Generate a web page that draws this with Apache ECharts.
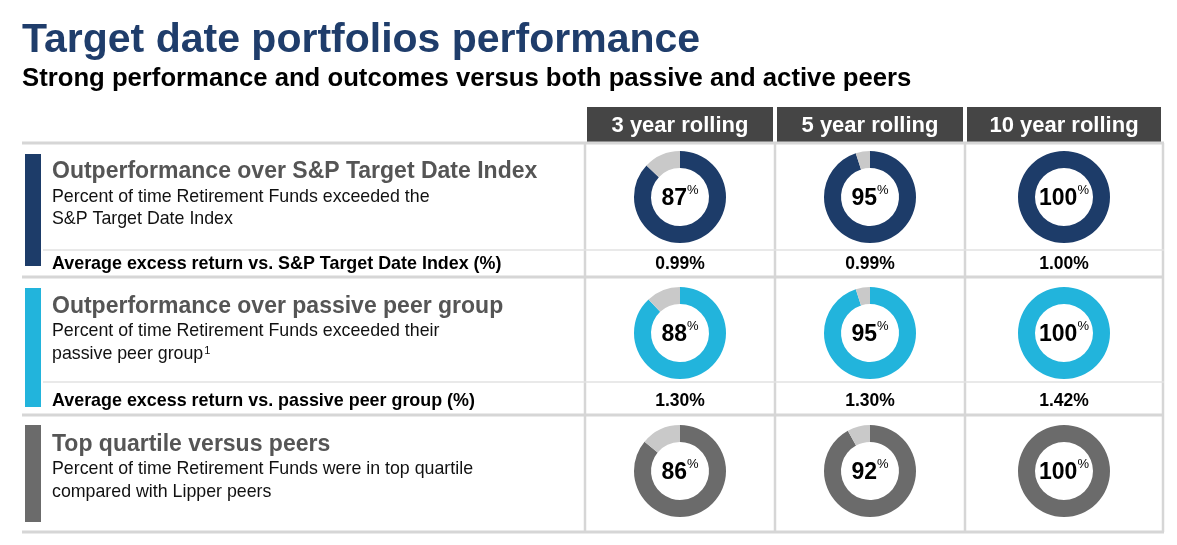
<!DOCTYPE html>
<html>
<head>
<meta charset="utf-8">
<script src="https://cdn.jsdelivr.net/npm/echarts@6/dist/echarts.min.js"></script>
<style>
html,body{margin:0;padding:0;background:#fff;}
#c{width:1177px;height:545px;}
</style>
</head>
<body>
<div id="c"></div>
<script>
// ---- data ----
const chartTitle = 'Target date portfolios performance';
const chartSubtitle = 'Strong performance and outcomes versus both passive and active peers';
const columns = ['3 year rolling', '5 year rolling', '10 year rolling'];
const rowTitles = ['Outperformance over S&P Target Date Index', 'Outperformance over passive peer group', 'Top quartile versus peers'];
const rowDescLine1 = ['Percent of time Retirement Funds exceeded the', 'Percent of time Retirement Funds exceeded their', 'Percent of time Retirement Funds were in top quartile'];
const rowDescLine2 = ['S&P Target Date Index', 'passive peer group{s|1}', 'compared with Lipper peers'];
const excessLabels = ['Average excess return vs. S&P Target Date Index (%)', 'Average excess return vs. passive peer group (%)', null];
const spIndexPct = [87, 95, 100];
const passivePeerPct = [88, 95, 100];
const topQuartilePct = [86, 92, 100];
const spExcess = ['0.99%', '0.99%', '1.00%'];
const passiveExcess = ['1.30%', '1.30%', '1.42%'];

// ---- styling / layout ----
const FONT = '"Liberation Sans", Arial, Helvetica, sans-serif';
const rowColors = ['#1d3c69', '#22b4dc', '#6b6b6b'];
const restColor = '#c9c9c9';
const lineColor = '#d6d6d6';
const colX = [[587, 773], [777, 963], [967, 1161]];
const colCenters = colX.map(c => (c[0] + c[1]) / 2);
const vLines = [585, 775, 965, 1163];
const tableTop = 143, tableBottom = 532;
const rows = [
  {barTop: 154, barBot: 266, title: 172, d1: 197, d2: 219, sep: 250, avg: 264, donut: 197, bottom: 277},
  {barTop: 288, barBot: 407, title: 307, d1: 331, d2: 354, sep: 382, avg: 401, donut: 333, bottom: 415},
  {barTop: 425, barBot: 522, title: 445, d1: 469, d2: 492, sep: null, avg: null, donut: 471, bottom: 532}
];
const pctData = [spIndexPct, passivePeerPct, topQuartilePct];
const excessData = [spExcess, passiveExcess, null];

const graphics = [];
// titles
graphics.push({type: 'text', x: 22, y: 41, style: {text: chartTitle, font: 'bold 41px ' + FONT, fill: '#1f3d6b', verticalAlign: 'middle'}});
graphics.push({type: 'text', x: 22, y: 79, style: {text: chartSubtitle, font: 'bold 25.7px ' + FONT, fill: '#000', verticalAlign: 'middle'}});
// header boxes
columns.forEach((c, i) => {
  graphics.push({type: 'rect', shape: {x: colX[i][0], y: 107, width: colX[i][1] - colX[i][0], height: 35}, style: {fill: '#454545'}});
  graphics.push({type: 'text', x: colCenters[i], y: 126, style: {text: c, font: 'bold 22px ' + FONT, fill: '#fff', align: 'center', verticalAlign: 'middle'}});
});
// vertical lines
vLines.forEach(x => {
  graphics.push({type: 'line', shape: {x1: x, y1: tableTop, x2: x, y2: tableBottom}, style: {stroke: lineColor, lineWidth: 2.5}});
});
// top horizontal line
graphics.push({type: 'line', shape: {x1: 22, y1: tableTop, x2: 1164, y2: tableTop}, style: {stroke: lineColor, lineWidth: 3}});
rows.forEach((r, i) => {
  graphics.push({type: 'rect', shape: {x: 25, y: r.barTop, width: 16, height: r.barBot - r.barTop}, style: {fill: rowColors[i]}});
  graphics.push({type: 'text', x: 52, y: r.title, style: {text: rowTitles[i], font: 'bold 23px ' + FONT, fill: '#555', verticalAlign: 'middle'}});
  graphics.push({type: 'text', x: 52, y: r.d1, style: {text: rowDescLine1[i], font: '17.8px ' + FONT, fill: '#111', verticalAlign: 'middle'}});
  graphics.push({type: 'text', x: 52, y: r.d2, style: {text: rowDescLine2[i], font: '17.8px ' + FONT, fill: '#111', verticalAlign: 'middle',
    rich: {s: {fontSize: 11, fontFamily: FONT, fill: '#111', verticalAlign: 'top', lineHeight: 11, padding: [0, 0, 9, 1]}}}});
  if (r.sep !== null) {
    graphics.push({type: 'line', shape: {x1: 43, y1: r.sep, x2: 1164, y2: r.sep}, style: {stroke: '#e2e2e2', lineWidth: 1.5}});
    graphics.push({type: 'text', x: 52, y: r.avg, style: {text: excessLabels[i], font: 'bold 17.9px ' + FONT, fill: '#000', verticalAlign: 'middle'}});
    excessData[i].forEach((v, j) => {
      graphics.push({type: 'text', x: colCenters[j], y: r.avg, style: {text: v, font: 'bold 17.5px ' + FONT, fill: '#000', align: 'center', verticalAlign: 'middle'}});
    });
  }
  graphics.push({type: 'line', shape: {x1: 22, y1: r.bottom, x2: 1164, y2: r.bottom}, style: {stroke: lineColor, lineWidth: 3}});
});

const series = [];
pctData.forEach((arr, i) => {
  arr.forEach((v, j) => {
    series.push({
      type: 'pie',
      radius: [29, 46],
      center: [colCenters[j], rows[i].donut],
      startAngle: 90,
      clockwise: true,
      silent: true,
      avoidLabelOverlap: false,
      labelLine: {show: false},
      emphasis: {disabled: true},
      itemStyle: {borderWidth: 0},
      data: [
        {value: v, itemStyle: {color: rowColors[i]},
         label: {show: true, position: 'center', formatter: '{v|' + v + '}{p|%}',
           rich: {v: {fontSize: 23, fontWeight: 'bold', fontFamily: FONT, color: '#000', lineHeight: 26, verticalAlign: 'bottom'},
                  p: {fontSize: 13, fontFamily: FONT, color: '#000', lineHeight: 14, verticalAlign: 'top', padding: [0, 0, 0, 0]}}}},
        {value: 100 - v, itemStyle: {color: restColor}, label: {show: false}}
      ]
    });
  });
});

const chart = echarts.init(document.getElementById('c'), null, {renderer: 'canvas'});
chart.setOption({
  animation: false,
  backgroundColor: '#fff',
  textStyle: {fontFamily: FONT},
  graphic: graphics,
  series: series
});
</script>
</body>
</html>
